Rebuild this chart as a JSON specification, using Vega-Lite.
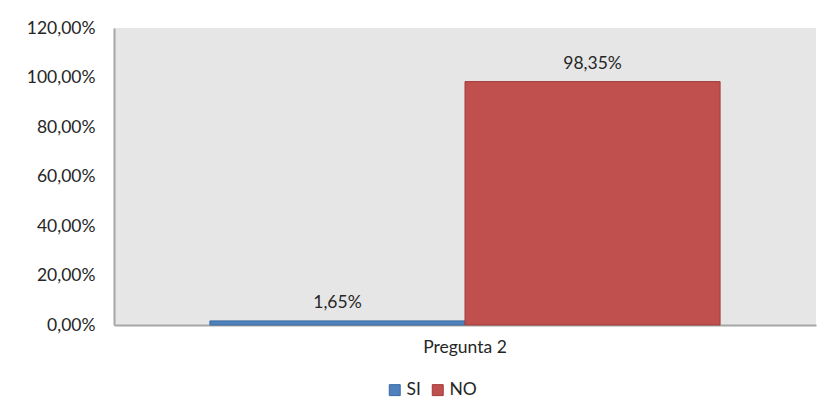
{
  "$schema": "https://vega.github.io/schema/vega-lite/v6.json",
  "autosize": {"type": "none"},
  "width": 702,
  "height": 297,
  "padding": {"left": 114, "top": 28, "right": 10, "bottom": 92},
  "background": "white",
  "config": {
    "locale": {"number": {"decimal": ",", "thousands": ".", "grouping": [3], "currency": ["", " €"]}},
    "view": {"fill": "#e6e6e6", "stroke": null},
    "font": "Lato"
  },
  "data": {
    "values": [
      {"pregunta": "Pregunta 2", "respuesta": "SI", "valor": 0.0165},
      {"pregunta": "Pregunta 2", "respuesta": "NO", "valor": 0.9835}
    ]
  },
  "encoding": {
    "x": {
      "field": "pregunta", "type": "nominal",
      "scale": {"paddingInner": 0, "paddingOuter": 0.188},
      "axis": {"title": null, "labelAngle": 0, "labelFontSize": 17.5, "labelColor": "#262626", "labelPadding": 13, "ticks": false, "domainColor": "#a6a6a6", "domainWidth": 2, "labelFont": "Lato"}
    },
    "xOffset": {"field": "respuesta", "type": "nominal", "sort": ["SI", "NO"], "scale": {"paddingInner": 0, "paddingOuter": 0}},
    "y": {
      "field": "valor", "type": "quantitative",
      "scale": {"domain": [0, 1.2], "nice": false},
      "axis": {"title": null, "format": ".2%", "values": [0, 0.2, 0.4, 0.6, 0.8, 1.0, 1.2], "grid": false, "ticks": false, "labelFontSize": 17.5, "labelColor": "#262626", "labelPadding": 19, "domainColor": "#a6a6a6", "domainWidth": 2, "labelFont": "Lato"}
    }
  },
  "layer": [
    {
      "mark": {"type": "bar", "strokeWidth": 1},
      "encoding": {
        "color": {
          "field": "respuesta", "type": "nominal", "sort": ["SI", "NO"],
          "scale": {"domain": ["SI", "NO"], "range": ["#4f81bd", "#c0504d"]},
          "legend": {"title": null, "orient": "none", "direction": "horizontal", "legendX": 272, "legendY": 353, "symbolType": "square", "symbolSize": 120, "symbolStrokeWidth": 1, "labelFontSize": 17.5, "labelColor": "#262626", "labelFont": "Lato", "columnPadding": 8, "labelOffset": 3}
        },
        "stroke": {
          "field": "respuesta", "type": "nominal",
          "scale": {"domain": ["SI", "NO"], "range": ["#3a6aa3", "#a03c3a"]},
          "legend": null
        }
      }
    },
    {
      "mark": {"type": "text", "baseline": "bottom", "dy": -9, "fontSize": 17.5, "color": "#262626", "font": "Lato"},
      "encoding": {
        "text": {"field": "valor", "type": "quantitative", "format": ".2%"}
      }
    }
  ]
}
